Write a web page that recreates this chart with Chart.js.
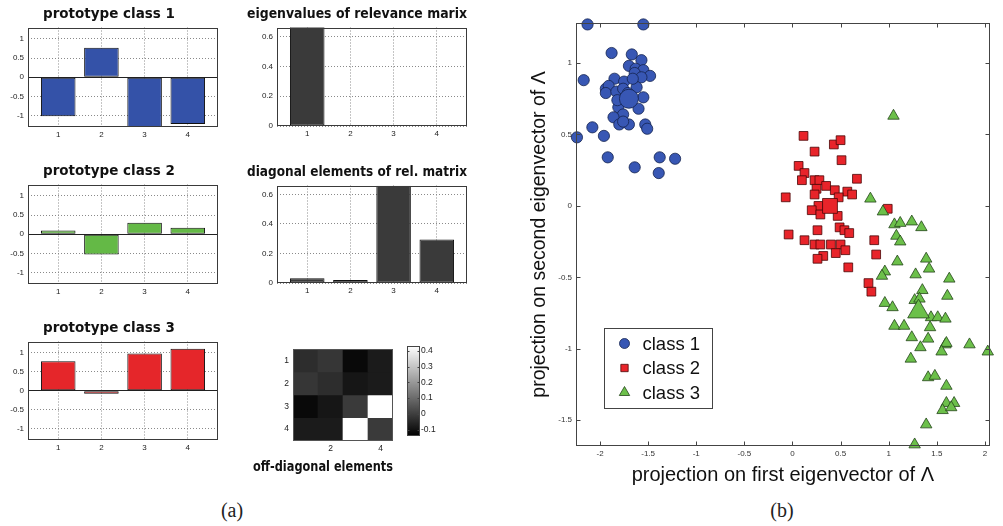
<!DOCTYPE html>
<html>
<head>
<meta charset="utf-8">
<script src="https://cdn.jsdelivr.net/npm/chart.js@4.4.1/dist/chart.umd.min.js"></script>
<style>
  html, body { margin: 0; padding: 0; background: #fff; }
  body { width: 1003px; height: 526px; position: relative; overflow: hidden; }
  canvas { position: absolute; }
  .tag { position: absolute; font-family: "Liberation Serif", serif; font-size: 20px; color: #222; transform: translate(-50%, -50%); }
</style>
</head>
<body>
<div class="tag" style="left:232px; top:510px">(a)</div>
<div class="tag" style="left:782px; top:510px">(b)</div>
<script>
// --- panel (a): prototypes and relevance matrix ---
const features = [1, 2, 3, 4];
const proto1 = [-1.02, 0.77, -1.38, -1.22];
const proto2 = [0.1, -0.53, 0.3, 0.17];
const proto3 = [0.78, -0.08, 0.98, 1.11];
const protoTicks = [-1, -0.5, 0, 0.5, 1];
const eigenvalues = [0.99, 0.005, 0.004, 0.003];
const diagonal = [0.032, 0.02, 0.658, 0.295];
const relTicks = [0, 0.2, 0.4, 0.6];

const matrixRows = ["1", "2", "3", "4"];
const matrixCols = ["1", "2", "3", "4"];
const offDiagonal = [
  [-0.04, -0.02, -0.12, -0.08],
  [-0.02, -0.04, -0.09, -0.08],
  [-0.12, -0.09, -0.01, 0.43],
  [-0.08, -0.08, 0.43, -0.01],
];
const colorbarTicks = [-0.1, 0, 0.1, 0.2, 0.3, 0.4];
const colorMin = -0.14;
const colorMax = 0.43;

// --- panel (b): projections ---
const class1X = [-2.13, -1.55, -1.88, -1.67, -1.57, -2.17, -1.70, -1.63, -1.55, -1.48, -1.64, -1.57, -1.85, -1.75,
  -1.94, -1.91, -1.94, -1.83, -1.76, -1.62, -1.55, -1.60, -1.81, -1.76, -1.86, -1.80, -1.70, -1.76, -1.53, -1.51,
  -2.08, -2.24, -1.96, -1.92, -1.64, -1.38, -1.22, -1.39, -1.66, -1.71, -1.82];
const class1Y = [1.27, 1.27, 1.07, 1.06, 1.02, 0.88, 0.98, 0.96, 0.95, 0.91, 0.93, 0.90, 0.89, 0.87,
  0.82, 0.84, 0.79, 0.80, 0.82, 0.83, 0.76, 0.68, 0.69, 0.64, 0.62, 0.57, 0.57, 0.59, 0.57, 0.54,
  0.55, 0.48, 0.49, 0.34, 0.27, 0.34, 0.33, 0.23, 0.89, 0.79, 0.74];
const class2X = [0.115, 0.43, 0.50, 0.23, 0.51, 0.064, 0.125, 0.098, 0.23, 0.28, 0.67, 0.25, 0.35, 0.44, 0.57,
  0.62, 0.23, 0.48, -0.07, 0.27, 0.20, 0.29, 0.47, 0.99, 0.49, 0.54, 0.59, 0.26, -0.04, 0.125, 0.23, 0.29,
  0.40, 0.50, 0.45, 0.55, 0.85, 0.87, 0.32, 0.26, 0.58, 0.79, 0.82];
const class2Y = [0.49, 0.43, 0.46, 0.38, 0.32, 0.28, 0.23, 0.18, 0.18, 0.18, 0.19, 0.12, 0.14, 0.11, 0.10,
  0.08, 0.08, 0.06, 0.06, 0.0, -0.03, -0.06, -0.07, -0.02, -0.15, -0.17, -0.19, -0.17, -0.20, -0.24, -0.27, -0.27,
  -0.27, -0.27, -0.33, -0.31, -0.24, -0.34, -0.35, -0.37, -0.43, -0.54, -0.60];
const class3X = [1.05, 0.81, 0.94, 1.06, 1.12, 1.24, 1.34, 1.08, 1.12, 1.09, 1.39, 1.42, 1.28, 0.96, 0.93, 1.63,
  1.35, 1.61, 0.96, 1.04, 1.27, 1.32, 1.44, 1.51, 1.59, 1.06, 1.16, 1.43, 1.24, 1.41, 1.33, 1.59, 1.60, 1.55,
  1.84, 2.03, 1.23, 1.41, 1.48, 1.60, 1.60, 1.68, 1.56, 1.65, 1.39, 1.27];
const class3Y = [0.63, 0.05, -0.04, -0.13, -0.12, -0.11, -0.15, -0.21, -0.25, -0.39, -0.37, -0.44, -0.48, -0.46,
  -0.49, -0.51, -0.59, -0.63, -0.68, -0.71, -0.66, -0.65, -0.78, -0.78, -0.79, -0.84, -0.84, -0.85, -0.92, -0.93,
  -0.99, -0.97, -0.96, -1.02, -0.97, -1.02, -1.07, -1.20, -1.19, -1.26, -1.38, -1.38, -1.43, -1.41, -1.53, -1.67];
const prototypeX = [-1.70, 0.39, 1.31];
const prototypeY = [0.75, 0.0, -0.74];
const classLabels = ["class 1", "class 2", "class 3"];
const projXTicks = [-2, -1.5, -1, -0.5, 0, 0.5, 1, 1.5, 2];
const projYTicks = [-1.5, -1, -0.5, 0, 0.5, 1];

Chart.defaults.font.family = '"Liberation Sans", Arial, sans-serif';
Chart.defaults.color = "#222";
Chart.defaults.animation = false;
Chart.defaults.events = [];
Chart.defaults.plugins.legend.display = false;
Chart.defaults.plugins.tooltip.enabled = false;

const titleFont = { family: '"DejaVu Sans", sans-serif', size: 13.5, weight: "bold", lineHeight: 1 };

function drawMarker(ctx, style, x, y, r) {
  ctx.beginPath();
  if (style === "rect") {
    const h = r * Math.SQRT1_2;
    ctx.rect(x - h, y - h, 2 * h, 2 * h);
  } else if (style === "triangle") {
    for (let k = 0; k < 3; k++) {
      const a = (k * 2 * Math.PI) / 3;
      const px = x + Math.sin(a) * r;
      const py = y - Math.cos(a) * r;
      if (k === 0) ctx.moveTo(px, py);
      else ctx.lineTo(px, py);
    }
    ctx.closePath();
  } else {
    ctx.arc(x, y, r, 0, 2 * Math.PI);
  }
  ctx.fill();
  ctx.stroke();
}

// box round the plot area, with optional inward ticks
const framePlugin = {
  id: "frame",
  afterDatasetsDraw(chart, args, opts) {
    if (!opts.show) return;
    const { ctx, chartArea: a, scales } = chart;
    const left = Math.round(a.left) + 0.5;
    const top = Math.round(a.top) + 0.5;
    const right = Math.round(a.right) - 0.5;
    const bottom = Math.round(a.bottom) - 0.5;
    ctx.save();
    ctx.strokeStyle = opts.color || "#3a3a3a";
    ctx.lineWidth = 1;
    ctx.strokeRect(left, top, right - left, bottom - top);
    const len = opts.tickLength || 0;
    if (len) {
      ctx.beginPath();
      (opts.axes || []).forEach((id) => {
        const scale = scales[id];
        scale.ticks.forEach((t) => {
          const p = Math.round(scale.getPixelForValue(t.value)) + 0.5;
          if (scale.isHorizontal()) {
            ctx.moveTo(p, bottom); ctx.lineTo(p, bottom - len);
            ctx.moveTo(p, top); ctx.lineTo(p, top + len);
          } else {
            ctx.moveTo(left, p); ctx.lineTo(left + len, p);
            ctx.moveTo(right, p); ctx.lineTo(right - len, p);
          }
        });
      });
      ctx.stroke();
    }
    ctx.restore();
  },
};

// boxed legend placed inside the plot area
const legendBoxPlugin = {
  id: "legendBox",
  afterDraw(chart, args, opts) {
    if (!opts.show) return;
    const { ctx, chartArea: a } = chart;
    const x = Math.round(a.left + opts.left) + 0.5;
    const y = Math.round(a.top + opts.top) + 0.5;
    ctx.save();
    ctx.fillStyle = "#fff";
    ctx.fillRect(x, y, opts.width, opts.height);
    ctx.strokeStyle = "#444";
    ctx.lineWidth = 1;
    ctx.strokeRect(x, y, opts.width, opts.height);
    const items = chart.data.datasets.filter((d) => d.inLegend);
    items.forEach((d, i) => {
      const rowY = y + opts.firstRow + i * opts.rowGap;
      ctx.fillStyle = d.backgroundColor;
      ctx.strokeStyle = d.borderColor;
      ctx.lineWidth = 0.8;
      drawMarker(ctx, d.pointStyle, x + opts.markerX, rowY, opts.markerSize[i]);
      ctx.fillStyle = "#111";
      ctx.font = opts.fontSize + 'px "Liberation Sans", Arial, sans-serif';
      ctx.textBaseline = "middle";
      ctx.fillText(d.label, x + opts.textX, rowY + 1);
    });
    ctx.restore();
  },
};

Chart.register(framePlugin, legendBoxPlugin);

function makeCanvas(left, top, width, height) {
  const canvas = document.createElement("canvas");
  canvas.width = width;
  canvas.height = height;
  canvas.style.left = left + "px";
  canvas.style.top = top + "px";
  canvas.style.width = width + "px";
  canvas.style.height = height + "px";
  document.body.appendChild(canvas);
  return canvas;
}

const isZero = (c) => c.tick && c.tick.value === 0;

function barPanel(canvas, title, values, colour, yMin, yMax, yTicks, yWidth, zeroLine) {
  return new Chart(canvas, {
    type: "bar",
    data: {
      datasets: [
        {
          data: features.map((f, i) => ({ x: f, y: values[i] })),
          backgroundColor: colour,
          borderColor: "#101010",
          borderWidth: 1,
          borderSkipped: false,
          barPercentage: 0.8,
          categoryPercentage: 1,
          clip: 0,
        },
      ],
    },
    options: {
      responsive: false,
      layout: { padding: { right: 4 } },
      plugins: {
        title: {
          display: true,
          text: title,
          color: "#111",
          font: titleFont,
          padding: { top: 2, bottom: 6 },
        },
        frame: { show: true },
      },
      scales: {
        x: {
          type: "linear",
          min: 0.3,
          max: 4.7,
          offset: false,
          afterBuildTicks: (s) => { s.ticks = features.map((v) => ({ value: v })); },
          afterFit: (s) => { s.height = 14; },
          grid: { offset: false, color: "#8a8a8a", drawTicks: false },
          border: { display: false, dash: [1, 2] },
          ticks: { font: { size: 8 }, padding: 3, callback: (v) => String(v) },
        },
        y: {
          min: yMin,
          max: yMax,
          afterBuildTicks: (s) => { s.ticks = yTicks.map((v) => ({ value: v })); },
          afterFit: (s) => { s.width = yWidth; },
          grid: {
            color: (c) => (zeroLine && isZero(c) ? "#222" : "#8a8a8a"),
            drawTicks: false,
          },
          border: { display: false, dash: (c) => (zeroLine && isZero(c) ? [] : [1, 2]) },
          ticks: { font: { size: 8 }, padding: 4, callback: (v) => String(v) },
        },
      },
    },
  });
}

barPanel(makeCanvas(0, 6, 222, 135), "prototype class 1", proto1, "#3452a8", -1.3, 1.3, protoTicks, 28, true);
barPanel(makeCanvas(0, 163, 222, 135), "prototype class 2", proto2, "#64b946", -1.3, 1.3, protoTicks, 28, true);
barPanel(makeCanvas(0, 320, 222, 134), "prototype class 3", proto3, "#e5262a", -1.3, 1.3, protoTicks, 28, true);
barPanel(makeCanvas(247, 6, 224, 134), "eigenvalues of relevance marix", eigenvalues, "#3a3a3a", 0, 0.66, relTicks, 30, false);
barPanel(makeCanvas(247, 164, 224, 133), "diagonal elements of rel. matrix", diagonal, "#3a3a3a", 0, 0.66, relTicks, 30, false);

// off-diagonal elements as a grey image
function grey(v) {
  const t = Math.min(1, Math.max(0, (v - colorMin) / (colorMax - colorMin)));
  const g = Math.round(255 * t);
  return `rgb(${g},${g},${g})`;
}

new Chart(makeCanvas(253, 340, 214, 136), {
  type: "bar",
  data: {
    labels: matrixCols,
    datasets: matrixRows.map((row, ri) => ({
      label: row,
      data: matrixCols.map(() => 1),
      backgroundColor: offDiagonal[ri].map(grey),
      borderWidth: 0,
      barPercentage: 1,
      categoryPercentage: 1,
    })),
  },
  options: {
    responsive: false,
    layout: { padding: { top: 2, right: 74 } },
    plugins: {
      title: {
        display: true,
        position: "bottom",
        text: "off-diagonal elements",
        color: "#111",
        font: titleFont,
        padding: { top: 6, bottom: 2 },
      },
      frame: { show: true, color: "#555" },
    },
    scales: {
      x: {
        stacked: true,
        afterFit: (s) => { s.height = 14; },
        grid: { display: false, drawTicks: false },
        border: { display: false },
        ticks: { font: { size: 8.5 }, padding: 3, callback: (v, i) => (i % 2 === 1 ? matrixCols[i] : "") },
      },
      y: {
        stacked: true,
        reverse: true,
        min: 0,
        max: matrixRows.length,
        afterBuildTicks: (s) => { s.ticks = matrixRows.map((r, i) => ({ value: i + 0.5 })); },
        afterFit: (s) => { s.width = 40; },
        grid: { display: false, drawTicks: false },
        border: { display: false },
        ticks: { font: { size: 8.5 }, padding: 4, callback: (v) => matrixRows[Math.floor(v)] },
      },
    },
  },
});

// colour bar
new Chart(makeCanvas(407, 340, 43, 102), {
  type: "bar",
  data: {
    labels: ["scale"],
    datasets: [
      {
        data: [[colorMin, colorMax]],
        backgroundColor: (c) => {
          const a = c.chart.chartArea;
          if (!a) return "#777";
          const g = c.chart.ctx.createLinearGradient(0, a.bottom, 0, a.top);
          g.addColorStop(0, "#000");
          g.addColorStop(1, "#fff");
          return g;
        },
        borderWidth: 0,
        barPercentage: 1,
        categoryPercentage: 1,
      },
    ],
  },
  options: {
    responsive: false,
    layout: { padding: { top: 2, bottom: 2 } },
    plugins: { frame: { show: true, color: "#444", tickLength: 2, axes: ["y"] } },
    scales: {
      x: { display: false },
      y: {
        position: "right",
        min: colorMin,
        max: colorMax,
        afterBuildTicks: (s) => { s.ticks = colorbarTicks.map((v) => ({ value: v })); },
        afterFit: (s) => { s.width = 30; },
        grid: { display: false, drawTicks: false },
        border: { display: false },
        ticks: { font: { size: 8.5 }, padding: 1, callback: (v) => String(Math.round(v * 10) / 10) },
      },
    },
  },
});

// scatter of the projections
const classStyles = [
  { style: "circle", fill: "#3857b4", edge: "#14234f", r: 5.6, big: 9.5 },
  { style: "rect", fill: "#e8242a", edge: "#4a0606", r: 6.2, big: 10.5 },
  { style: "triangle", fill: "#6cc04a", edge: "#24451a", r: 6.6, big: 12.5 },
];
const classXs = [class1X, class2X, class3X];
const classYs = [class1Y, class2Y, class3Y];

const scatterSets = classLabels.map((label, k) => ({
  label,
  inLegend: true,
  data: classXs[k].map((x, i) => ({ x, y: classYs[k][i] })),
  pointStyle: classStyles[k].style,
  pointRadius: classStyles[k].r,
  backgroundColor: classStyles[k].fill,
  borderColor: classStyles[k].edge,
  borderWidth: 0.8,
  clip: false,
  order: 3 - k,
}));
const prototypeSets = classLabels.map((label, k) => ({
  label: label + " prototype",
  data: [{ x: prototypeX[k], y: prototypeY[k] }],
  pointStyle: classStyles[k].style,
  pointRadius: classStyles[k].big,
  backgroundColor: classStyles[k].fill,
  borderColor: classStyles[k].edge,
  borderWidth: 0.8,
  clip: false,
  order: -1,
}));

new Chart(makeCanvas(520, 0, 483, 487), {
  type: "scatter",
  data: { datasets: [...scatterSets, ...prototypeSets] },
  options: {
    responsive: false,
    layout: { padding: { top: 23, right: 4 } },
    plugins: {
      frame: { show: true, color: "#444", tickLength: 4, axes: ["x", "y"] },
      legendBox: {
        show: true, left: 28, top: 305, width: 108, height: 80,
        firstRow: 15, rowGap: 24.5, markerX: 20, textX: 38, fontSize: 18.5,
        markerSize: [5, 5.2, 6],
      },
    },
    scales: {
      x: {
        type: "linear",
        min: -2.25,
        max: 2.05,
        afterBuildTicks: (s) => { s.ticks = projXTicks.map((v) => ({ value: v })); },
        afterFit: (s) => { s.height = 41; },
        grid: { display: false, drawTicks: false },
        border: { display: false },
        ticks: { font: { size: 8 }, padding: 3, color: "#333", callback: (v) => String(v) },
        title: {
          display: true,
          text: "projection on first eigenvector of Λ",
          color: "#111",
          font: { size: 20, lineHeight: 1 },
          padding: { top: 0, bottom: 2 },
        },
      },
      y: {
        type: "linear",
        min: -1.68,
        max: 1.28,
        afterBuildTicks: (s) => { s.ticks = projYTicks.map((v) => ({ value: v })); },
        afterFit: (s) => { s.width = 56; },
        grid: { display: false, drawTicks: false },
        border: { display: false },
        ticks: { font: { size: 8 }, padding: 4, color: "#333", callback: (v) => String(v) },
        title: {
          display: true,
          text: "projection on second eigenvector of Λ",
          color: "#111",
          font: { size: 19.5, lineHeight: 1 },
          padding: { top: 10, bottom: 0 },
        },
      },
    },
  },
});
</script>
</body>
</html>
